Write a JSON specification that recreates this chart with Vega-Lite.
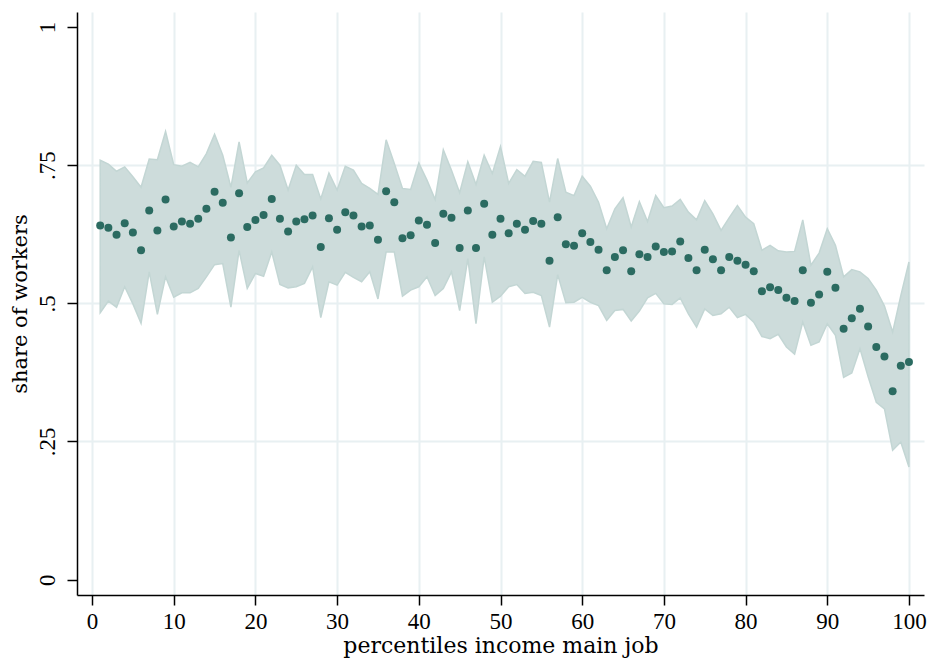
{
  "$schema": "https://vega.github.io/schema/vega-lite/v6.json",
  "width": 847,
  "height": 583,
  "autosize": {"type": "none"},
  "padding": {"left": 77, "top": 12, "right": 6, "bottom": 66},
  "background": "white",
  "config": {"view": {"stroke": null}, "font": "DejaVu Serif"},
  "data": {"values": [
    {"p":1,"share":0.641,"lo":0.483,"hi":0.759},
    {"p":2,"share":0.637,"lo":0.504,"hi":0.752},
    {"p":3,"share":0.624,"lo":0.493,"hi":0.739},
    {"p":4,"share":0.645,"lo":0.530,"hi":0.747},
    {"p":5,"share":0.628,"lo":0.499,"hi":0.729},
    {"p":6,"share":0.596,"lo":0.464,"hi":0.710},
    {"p":7,"share":0.668,"lo":0.557,"hi":0.761},
    {"p":8,"share":0.632,"lo":0.480,"hi":0.760},
    {"p":9,"share":0.688,"lo":0.548,"hi":0.811},
    {"p":10,"share":0.639,"lo":0.511,"hi":0.751},
    {"p":11,"share":0.648,"lo":0.519,"hi":0.748},
    {"p":12,"share":0.644,"lo":0.519,"hi":0.755},
    {"p":13,"share":0.653,"lo":0.527,"hi":0.747},
    {"p":14,"share":0.671,"lo":0.548,"hi":0.771},
    {"p":15,"share":0.702,"lo":0.570,"hi":0.806},
    {"p":16,"share":0.682,"lo":0.572,"hi":0.768},
    {"p":17,"share":0.619,"lo":0.493,"hi":0.710},
    {"p":18,"share":0.699,"lo":0.596,"hi":0.792},
    {"p":19,"share":0.638,"lo":0.527,"hi":0.718},
    {"p":20,"share":0.651,"lo":0.554,"hi":0.738},
    {"p":21,"share":0.660,"lo":0.549,"hi":0.745},
    {"p":22,"share":0.689,"lo":0.593,"hi":0.768},
    {"p":23,"share":0.653,"lo":0.534,"hi":0.750},
    {"p":24,"share":0.630,"lo":0.528,"hi":0.705},
    {"p":25,"share":0.648,"lo":0.530,"hi":0.750},
    {"p":26,"share":0.652,"lo":0.536,"hi":0.733},
    {"p":27,"share":0.659,"lo":0.566,"hi":0.733},
    {"p":28,"share":0.602,"lo":0.474,"hi":0.689},
    {"p":29,"share":0.654,"lo":0.539,"hi":0.736},
    {"p":30,"share":0.633,"lo":0.533,"hi":0.705},
    {"p":31,"share":0.665,"lo":0.556,"hi":0.748},
    {"p":32,"share":0.659,"lo":0.547,"hi":0.741},
    {"p":33,"share":0.639,"lo":0.539,"hi":0.717},
    {"p":34,"share":0.641,"lo":0.557,"hi":0.708},
    {"p":35,"share":0.615,"lo":0.508,"hi":0.697},
    {"p":36,"share":0.703,"lo":0.593,"hi":0.796},
    {"p":37,"share":0.683,"lo":0.593,"hi":0.753},
    {"p":38,"share":0.618,"lo":0.513,"hi":0.708},
    {"p":39,"share":0.623,"lo":0.524,"hi":0.706},
    {"p":40,"share":0.650,"lo":0.530,"hi":0.754},
    {"p":41,"share":0.642,"lo":0.548,"hi":0.723},
    {"p":42,"share":0.609,"lo":0.514,"hi":0.688},
    {"p":43,"share":0.662,"lo":0.527,"hi":0.778},
    {"p":44,"share":0.655,"lo":0.557,"hi":0.741},
    {"p":45,"share":0.600,"lo":0.487,"hi":0.700},
    {"p":46,"share":0.668,"lo":0.581,"hi":0.756},
    {"p":47,"share":0.600,"lo":0.463,"hi":0.715},
    {"p":48,"share":0.680,"lo":0.584,"hi":0.768},
    {"p":49,"share":0.624,"lo":0.502,"hi":0.735},
    {"p":50,"share":0.653,"lo":0.513,"hi":0.784},
    {"p":51,"share":0.627,"lo":0.530,"hi":0.717},
    {"p":52,"share":0.644,"lo":0.534,"hi":0.742},
    {"p":53,"share":0.633,"lo":0.518,"hi":0.730},
    {"p":54,"share":0.649,"lo":0.520,"hi":0.757},
    {"p":55,"share":0.644,"lo":0.514,"hi":0.755},
    {"p":56,"share":0.577,"lo":0.457,"hi":0.683},
    {"p":57,"share":0.656,"lo":0.552,"hi":0.762},
    {"p":58,"share":0.607,"lo":0.501,"hi":0.701},
    {"p":59,"share":0.604,"lo":0.502,"hi":0.695},
    {"p":60,"share":0.627,"lo":0.511,"hi":0.730},
    {"p":61,"share":0.611,"lo":0.502,"hi":0.712},
    {"p":62,"share":0.597,"lo":0.496,"hi":0.683},
    {"p":63,"share":0.560,"lo":0.469,"hi":0.635},
    {"p":64,"share":0.584,"lo":0.487,"hi":0.671},
    {"p":65,"share":0.596,"lo":0.489,"hi":0.691},
    {"p":66,"share":0.558,"lo":0.468,"hi":0.638},
    {"p":67,"share":0.589,"lo":0.486,"hi":0.684},
    {"p":68,"share":0.584,"lo":0.510,"hi":0.648},
    {"p":69,"share":0.603,"lo":0.518,"hi":0.695},
    {"p":70,"share":0.593,"lo":0.499,"hi":0.673},
    {"p":71,"share":0.594,"lo":0.498,"hi":0.676},
    {"p":72,"share":0.612,"lo":0.510,"hi":0.688},
    {"p":73,"share":0.582,"lo":0.481,"hi":0.665},
    {"p":74,"share":0.560,"lo":0.457,"hi":0.651},
    {"p":75,"share":0.597,"lo":0.490,"hi":0.686},
    {"p":76,"share":0.580,"lo":0.478,"hi":0.662},
    {"p":77,"share":0.560,"lo":0.481,"hi":0.632},
    {"p":78,"share":0.584,"lo":0.493,"hi":0.655},
    {"p":79,"share":0.577,"lo":0.474,"hi":0.677},
    {"p":80,"share":0.570,"lo":0.480,"hi":0.656},
    {"p":81,"share":0.558,"lo":0.466,"hi":0.644},
    {"p":82,"share":0.522,"lo":0.440,"hi":0.596},
    {"p":83,"share":0.529,"lo":0.436,"hi":0.605},
    {"p":84,"share":0.524,"lo":0.444,"hi":0.595},
    {"p":85,"share":0.510,"lo":0.421,"hi":0.593},
    {"p":86,"share":0.504,"lo":0.408,"hi":0.594},
    {"p":87,"share":0.560,"lo":0.466,"hi":0.651},
    {"p":88,"share":0.501,"lo":0.424,"hi":0.569},
    {"p":89,"share":0.516,"lo":0.430,"hi":0.591},
    {"p":90,"share":0.557,"lo":0.463,"hi":0.635},
    {"p":91,"share":0.528,"lo":0.442,"hi":0.605},
    {"p":92,"share":0.454,"lo":0.366,"hi":0.548},
    {"p":93,"share":0.473,"lo":0.374,"hi":0.561},
    {"p":94,"share":0.490,"lo":0.418,"hi":0.557},
    {"p":95,"share":0.458,"lo":0.367,"hi":0.545},
    {"p":96,"share":0.421,"lo":0.321,"hi":0.524},
    {"p":97,"share":0.404,"lo":0.309,"hi":0.495},
    {"p":98,"share":0.341,"lo":0.234,"hi":0.448},
    {"p":99,"share":0.387,"lo":0.249,"hi":0.514},
    {"p":100,"share":0.394,"lo":0.204,"hi":0.575}
  ]},
  "encoding": {
    "x": {
      "field": "p", "type": "quantitative",
      "scale": {"domain": [-1.84, 101.84], "nice": false, "zero": false},
      "axis": {
        "values": [0,10,20,30,40,50,60,70,80,90,100],
        "domain": true, "domainColor": "#000000", "domainWidth": 1.5,
        "ticks": true, "tickColor": "#000000", "tickSize": 10, "tickWidth": 1.5,
        "grid": true, "gridColor": "#e8f0f2", "gridWidth": 2,
        "labelFont": "Liberation Serif", "labelFontSize": 23, "labelColor": "#000000", "labelPadding": 5,
        "labelOverlap": false, "labelFlush": false,
        "title": "percentiles income main job", "titleFont": "DejaVu Serif", "titleFontSize": 22,
        "titleFontWeight": "normal", "titleColor": "#000000", "titlePadding": 2
      }
    }
  },
  "layer": [
    {
      "mark": {"type": "area", "fill": "#cddcdb", "stroke": "#c3d6d4", "strokeWidth": 1.5, "opacity": 1},
      "encoding": {
        "y": {
          "field": "lo", "type": "quantitative",
          "scale": {"domain": [-0.0278, 1.0272], "nice": false, "zero": false},
          "axis": {
            "values": [0, 0.25, 0.5, 0.75, 1],
            "labelExpr": "replace(toString(datum.value), '0.', '.')",
            "domain": true, "domainColor": "#000000", "domainWidth": 1.5,
            "ticks": true, "tickColor": "#000000", "tickSize": 10, "tickWidth": 1.5,
            "grid": true, "gridColor": "#e8f0f2", "gridWidth": 2,
            "gridOpacity": {"condition": {"test": "datum.value == 0 || datum.value == 1", "value": 0}, "value": 1},
            "labelAngle": -90, "labelFont": "Liberation Serif", "labelFontSize": 23, "labelColor": "#000000", "labelPadding": 8,
            "title": "share of workers", "titleFont": "DejaVu Serif", "titleFontSize": 21,
            "titleFontWeight": "normal", "titleColor": "#000000", "titlePadding": 6
          }
        },
        "y2": {"field": "hi"}
      }
    },
    {
      "mark": {"type": "circle", "color": "#2b6b61", "size": 64, "opacity": 1},
      "encoding": {
        "y": {"field": "share", "type": "quantitative"}
      }
    }
  ]
}
